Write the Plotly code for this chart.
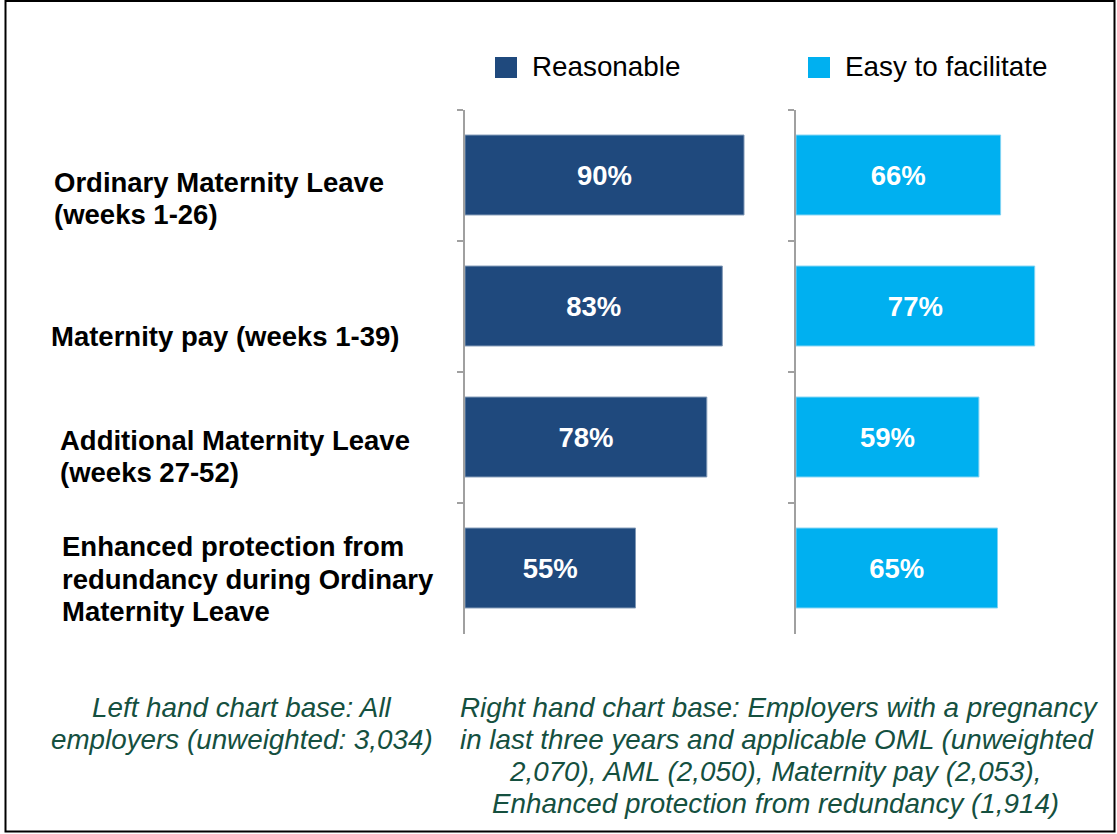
import plotly.graph_objects as go

# ---- data ----
categories = [
    "Ordinary Maternity Leave (weeks 1-26)",
    "Maternity pay (weeks 1-39)",
    "Additional Maternity Leave (weeks 27-52)",
    "Enhanced protection from redundancy during Ordinary Maternity Leave",
]
category_lines = [
    ["Ordinary Maternity Leave", "(weeks 1-26)"],
    ["Maternity pay (weeks 1-39)"],
    ["Additional Maternity Leave", "(weeks 27-52)"],
    ["Enhanced protection from", "redundancy during Ordinary", "Maternity Leave"],
]
reasonable = [90, 83, 78, 55]
easy_to_facilitate = [66, 77, 59, 65]
series_names = ["Reasonable", "Easy to facilitate"]
left_note = ["Left hand chart base: All", "employers (unweighted: 3,034)"]
right_note = [
    "Right hand chart base: Employers with a pregnancy",
    "in last three years and applicable OML (unweighted",
    "2,070), AML (2,050), Maternity pay (2,053),",
    "Enhanced protection from redundancy (1,914)",
]

# ---- layout helpers ----
W, H = 1117, 834
FONT = "Liberation Sans, Arial, sans-serif"
NAVY = "#1F497D"
CYAN = "#00B0F0"
GREEN = "#15503F"
AXIS_GRAY = "#A0A0A0"
BOLD_SIZE = 27.5
REG_SIZE = 27.8


def px(x):
    return x / W


def py(y):
    return 1 - y / H


fig = go.Figure()

fig.add_trace(go.Bar(
    y=categories, x=reasonable, orientation="h", name=series_names[0],
    marker=dict(color=NAVY, line=dict(color="#7F97B5", width=1)),
    width=0.61, text=[f"{v}%" for v in reasonable], textposition="inside",
    insidetextanchor="middle",
    textfont=dict(color="white", size=BOLD_SIZE, family=FONT, weight="bold"),
    xaxis="x", yaxis="y", showlegend=False,
))
fig.add_trace(go.Bar(
    y=categories, x=easy_to_facilitate, orientation="h", name=series_names[1],
    marker=dict(color=CYAN, line=dict(color="#7FD3F3", width=1)),
    width=0.61, text=[f"{v}%" for v in easy_to_facilitate], textposition="inside",
    insidetextanchor="middle",
    textfont=dict(color="white", size=BOLD_SIZE, family=FONT, weight="bold"),
    xaxis="x2", yaxis="y2", showlegend=False,
))

ydom = [py(633.5), py(109.5)]
yax_common = dict(
    domain=ydom, autorange="reversed", showticklabels=False,
    showline=True, linecolor=AXIS_GRAY, linewidth=2,
    ticks="outside", tickson="boundaries", ticklen=6, tickwidth=2,
    tickcolor=AXIS_GRAY, showgrid=False, zeroline=False, fixedrange=True,
)
xax_common = dict(range=[0, 100], visible=False, showgrid=False, zeroline=False,
                  fixedrange=True)

annotations = []
shapes = []

# category labels
line_pos = [
    (52, [183, 215]),
    (49, [337]),
    (58, [440, 472]),
    (60, [546, 579, 611]),
]
for lines, (x0, ys) in zip(category_lines, line_pos):
    for txt, yy in zip(lines, ys):
        annotations.append(dict(
            text=txt, xref="paper", yref="paper", x=px(x0), y=py(yy),
            xanchor="left", yanchor="middle", showarrow=False,
            font=dict(family=FONT, size=BOLD_SIZE, color="black", weight="bold"),
        ))

# legend (squares + labels)
for name, color, sx in [(series_names[0], NAVY, 495), (series_names[1], CYAN, 808)]:
    shapes.append(dict(type="rect", xref="paper", yref="paper",
                       x0=px(sx), x1=px(sx + 22), y0=py(78), y1=py(57),
                       fillcolor=color, line=dict(width=0)))
    annotations.append(dict(
        text=name, xref="paper", yref="paper", x=px(sx + 35), y=py(67),
        xanchor="left", yanchor="middle", showarrow=False,
        font=dict(family=FONT, size=REG_SIZE, color="black"),
    ))

# footnotes
for i, txt in enumerate(left_note):
    annotations.append(dict(
        text=f"<i>{txt}</i>", xref="paper", yref="paper", x=px(242), y=py(707 + 32 * i),
        xanchor="center", yanchor="middle", showarrow=False,
        font=dict(family=FONT, size=REG_SIZE, color=GREEN),
    ))
right_centers = [779, 778, 776, 776]
for i, (txt, cx) in enumerate(zip(right_note, right_centers)):
    annotations.append(dict(
        text=f"<i>{txt}</i>", xref="paper", yref="paper", x=px(cx), y=py(707 + 32 * i),
        xanchor="center", yanchor="middle", showarrow=False,
        font=dict(family=FONT, size=REG_SIZE, color=GREEN),
    ))

# outer border
shapes.append(dict(type="rect", xref="paper", yref="paper",
                   x0=px(5.5), x1=px(1114.5), y0=py(831.5), y1=py(1),
                   line=dict(color="black", width=2), fillcolor="rgba(0,0,0,0)"))

fig.update_layout(
    width=W, height=H, autosize=False,
    margin=dict(l=0, r=0, t=0, b=0, pad=0),
    paper_bgcolor="white", plot_bgcolor="white",
    font=dict(family=FONT),
    xaxis=dict(domain=[px(465), px(775)], anchor="y", **xax_common),
    xaxis2=dict(domain=[px(796), px(1106)], anchor="y2", **xax_common),
    yaxis=dict(anchor="x", **yax_common),
    yaxis2=dict(anchor="x2", **yax_common),
    annotations=annotations, shapes=shapes,
    showlegend=False, uniformtext=dict(mode=False),
)

fig.write_html(
    "out.html",
    config={"displayModeBar": False},
    post_script="document.body.style.margin='0';document.body.style.overflow='hidden';",
)
